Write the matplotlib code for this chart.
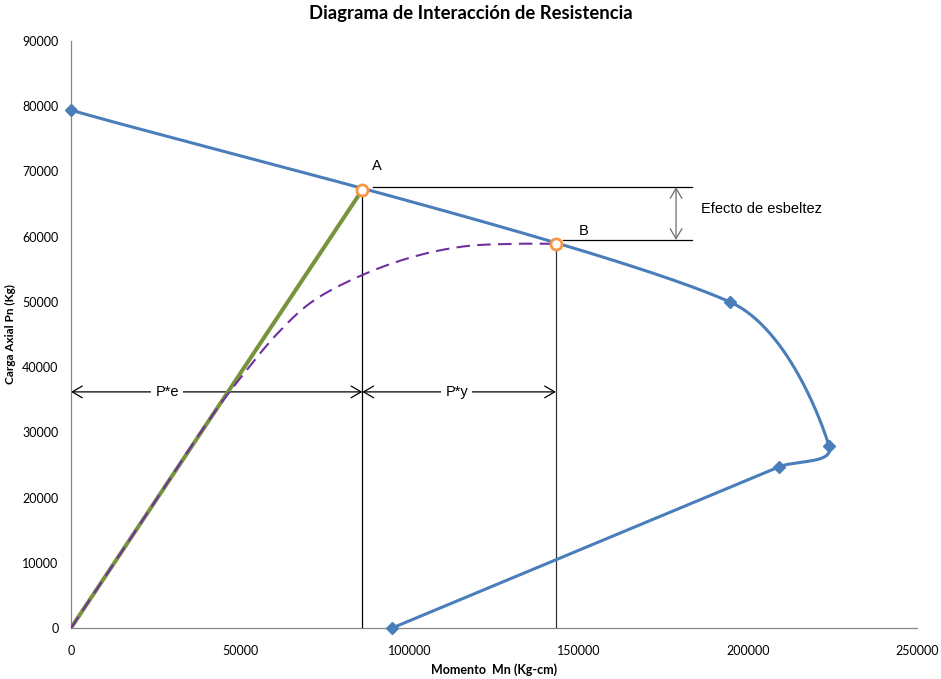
import numpy as np
import matplotlib
matplotlib.use("Agg")
import matplotlib.pyplot as plt

# ---------------- data ----------------
pn_m = [0, 194700, 224000, 209200, 94900]          # Momento Mn (Kg-cm)
pn_p = [79400, 50000, 27900, 24700, 0]             # Carga Axial Pn (Kg)
pt_a = (86100, 67200)
pt_b = (143300, 58900)
slender_m = [0, 20000, 40000, 52000, 62000, 72000, 86000, 101000, 116000, 131000, 143300]
slender_p = [0, 15600, 31300, 39600, 45700, 50300, 54100, 56900, 58500, 58900, 58900]
load_m = [0, pt_a[0]]
load_p = [0, pt_a[1]]
xticks = [0, 50000, 100000, 150000, 200000, 250000]
yticks = list(range(0, 90001, 10000))
dim_y = 36200
ref_top_y = 67600
ref_bot_y = 59500
ref_end_x = 183500
arrow_x = 178800

BLUE = "#4A7EBB"
GREEN = "#77933C"
PURPLE = "#7030A0"
ORANGE = "#F79646"

fig = plt.figure(figsize=(9.41, 6.79), dpi=100)
ax = fig.add_axes([71 / 941, 51 / 679, 846 / 941, 587 / 679])
ax.set_xlim(0, 250000)
ax.set_ylim(0, 90000)


def smooth(ax, xs, ys, k=0.35, n=60):
    pts = ax.transData.transform(np.column_stack([xs, ys]).astype(float))
    m = len(pts)
    out = [pts[0]]
    for i in range(m - 1):
        p0 = pts[max(i - 1, 0)]
        p1 = pts[i]
        p2 = pts[i + 1]
        p3 = pts[min(i + 2, m - 1)]
        seg = np.linalg.norm(p2 - p1)
        h1 = (p2 - p0) / 6.0
        h2 = (p3 - p1) / 6.0
        lim = k * seg
        if np.linalg.norm(h1) > lim:
            h1 = h1 / np.linalg.norm(h1) * lim
        if np.linalg.norm(h2) > lim:
            h2 = h2 / np.linalg.norm(h2) * lim
        c1 = p1 + h1
        c2 = p2 - h2
        t = np.linspace(0, 1, n)[1:, None]
        b = (1 - t) ** 3 * p1 + 3 * (1 - t) ** 2 * t * c1 + 3 * (1 - t) * t ** 2 * c2 + t ** 3 * p2
        out.extend(b)
    out = np.array(out)
    return ax.transData.inverted().transform(out)


# reference lines
ax.plot([pt_a[0], pt_a[0]], [0, pt_a[1]], color="black", lw=0.9, zorder=1)
ax.plot([pt_b[0], pt_b[0]], [0, pt_b[1]], color="#333333", lw=0.9, zorder=1)
ax.plot([pt_a[0] + 3000, ref_end_x], [ref_top_y, ref_top_y], color="black", lw=0.9, zorder=1)
ax.plot([pt_b[0] + 2000, ref_end_x], [ref_bot_y, ref_bot_y], color="black", lw=0.9, zorder=1)

aprops = dict(arrowstyle="<->,head_length=0.6,head_width=0.35", color="black", lw=0.9,
              shrinkA=0, shrinkB=0, mutation_scale=12)
ax.annotate("", xy=(0, dim_y), xytext=(pt_a[0], dim_y), arrowprops=aprops, zorder=1)
ax.annotate("", xy=(pt_a[0], dim_y), xytext=(pt_b[0], dim_y), arrowprops=aprops, zorder=1)
gprops = dict(aprops)
gprops["color"] = "#6d6d6d"
ax.annotate("", xy=(arrow_x, ref_top_y), xytext=(arrow_x, ref_bot_y), arrowprops=gprops)

tfont = dict(family=["Liberation Sans", "DejaVu Sans"], fontsize=10.5)
ax.text(28500, dim_y, "P*e", ha="center", va="center", zorder=2,
        bbox=dict(facecolor="white", edgecolor="none", pad=3), **tfont)
ax.text(114000, dim_y, "P*y", ha="center", va="center", zorder=2,
        bbox=dict(facecolor="white", edgecolor="none", pad=3), **tfont)
ax.text(186300, 64300, "Efecto de esbeltez", ha="left", va="center", **tfont)
ax.text(pt_a[0] + 4200, 70800, "A", ha="center", va="center", **tfont)
ax.text(pt_b[0] + 8300, 60800, "B", ha="center", va="center", **tfont)

# main series
cx, cy = smooth(ax, pn_m, pn_p).T
ax.plot(cx, cy, color=BLUE, lw=2.2, solid_capstyle="round", zorder=3)
ax.plot(pn_m, pn_p, ls="none", marker="D", ms=6.5, color=BLUE, zorder=4, clip_on=False)

sx, sy = smooth(ax, slender_m, slender_p, k=0.5).T
ax.plot(sx, sy, color=PURPLE, lw=1.5, ls=(0, (6.5, 3.5)), zorder=3)
ax.plot(load_m, load_p, color=GREEN, lw=2.9, zorder=2.5)

ax.plot([pt_a[0], pt_b[0]], [pt_a[1], pt_b[1]], ls="none", marker="o", ms=8,
        mfc="white", mec=ORANGE, mew=2, zorder=5)

# axes styling
for s in ["top", "right"]:
    ax.spines[s].set_visible(False)
for s in ["left", "bottom"]:
    ax.spines[s].set_color("#868686")
    ax.spines[s].set_linewidth(0.9)
ax.set_xticks(xticks)
ax.set_yticks(yticks)
ax.set_xticklabels([str(v) for v in xticks])
ax.set_yticklabels([str(v) for v in yticks])
ax.tick_params(length=0, labelsize=9)
ax.tick_params(axis="x", pad=12)
ax.tick_params(axis="y", pad=9)
for lab in ax.get_xticklabels() + ax.get_yticklabels():
    lab.set_family(["Lato", "DejaVu Sans"])

ax.set_xlabel("Momento  Mn (Kg-cm)", family=["Lato", "DejaVu Sans"], fontweight="bold",
              fontsize=9, va="center")
ax.xaxis.set_label_coords(0.5, -42 / 587)
ax.set_ylabel("Carga Axial Pn (Kg)", family=["Lato", "DejaVu Sans"], fontweight="bold",
              fontsize=8.5, va="center")
ax.yaxis.set_label_coords(-61 / 846, 0.5)
fig.text(0.5, 1 - 13 / 679, "Diagrama de Interacción de Resistencia", ha="center", va="center",
         family=["Lato", "DejaVu Sans"], fontweight="bold", fontsize=13.3)

fig.savefig("out.png", dpi=100)
